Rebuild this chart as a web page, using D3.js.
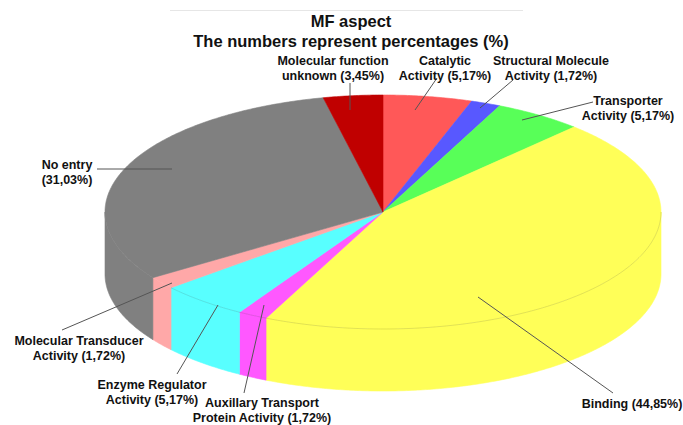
<!DOCTYPE html>
<html>
<head>
<meta charset="utf-8">
<script src="https://cdn.jsdelivr.net/npm/d3@7"></script>
<style>
  html, body { margin: 0; padding: 0; background: #fff; }
  svg { display: block; }
  text { font-family: "Liberation Sans", Arial, sans-serif; font-weight: bold; fill: #111; }
</style>
</head>
<body>
<script>
// ---- data ----
const categories = [
  "Catalytic Activity", "Structural Molecule Activity", "Transporter Activity",
  "Binding", "Auxillary Transport Protein Activity", "Enzyme Regulator Activity",
  "Molecular Transducer Activity", "No entry", "Molecular function unknown"
];
const values = [5.17, 1.72, 5.17, 44.85, 1.72, 5.17, 1.72, 31.03, 3.45];
const labelTexts = [
  ["Catalytic", "Activity (5,17%)"],
  ["Structural Molecule", "Activity (1,72%)"],
  ["Transporter", "Activity (5,17%)"],
  ["Binding (44,85%)"],
  ["Auxillary Transport", "Protein Activity (1,72%)"],
  ["Enzyme Regulator", "Activity (5,17%)"],
  ["Molecular Transducer", "Activity (1,72%)"],
  ["No entry", "(31,03%)"],
  ["Molecular function", "unknown (3,45%)"]
];
const titleLines = ["MF aspect", "The numbers represent percentages (%)"];

// ---- styles / layout ----
const colors = ["#FF5858", "#5858FF", "#58FF58", "#FFFF58", "#FF58FF", "#58FFFF", "#FFA8A8", "#808080", "#C00000"];
const W = 683, H = 425;
const cx = 383, cy = 212, rx = 278, ry = 117, depth = 62;
// label layout: [textCenterX, firstBaselineY, lineFromX, lineFromY, lineToX, lineToY]
const labelLayout = [
  [445, 65, 415, 110, 437, 78],
  [551, 65, 480, 108, 513, 80],
  [628, 105, 522, 120, 593, 102],
  [632, 408, 478, 297, 613, 393],
  [262, 407, 264, 305, 244, 393],
  [152, 389, 218, 305, 177, 374],
  [79, 345, 172, 283, 62, 330],
  [67, 169, 172, 169, 97, 169],
  [333, 65, 350, 110, 350, 83]
];

const svg = d3.select("body").append("svg").attr("width", W).attr("height", H);

// faint frame line at top
svg.append("line").attr("x1", 170).attr("x2", 523).attr("y1", 10.5).attr("y2", 10.5)
  .attr("stroke", "#e6e6e6").attr("stroke-width", 1);

const pie = d3.pie().sort(null).value(d => d).startAngle(0).endAngle(2 * Math.PI);
const arcs = pie(values);

const pt = (a, dy = 0) => [cx + rx * Math.sin(a), cy - ry * Math.cos(a) + dy];
const sample = (a0, a1, dy = 0) => {
  const n = Math.max(2, Math.ceil(Math.abs(a1 - a0) / 0.01));
  return d3.range(n + 1).map(i => pt(a0 + (a1 - a0) * i / n, dy));
};
const line = d3.line();

// side walls (front half only)
const sides = svg.append("g");
arcs.forEach((a, i) => {
  const s0 = Math.max(a.startAngle, Math.PI / 2);
  const s1 = Math.min(a.endAngle, 3 * Math.PI / 2);
  if (s1 > s0) {
    const pts = sample(s0, s1).concat(sample(s1, s0, depth));
    sides.append("path").attr("d", line(pts) + "Z")
      .attr("fill", colors[i]).attr("stroke", colors[i]).attr("stroke-width", 0.6);
  }
});

// top faces
const tops = svg.append("g");
arcs.forEach((a, i) => {
  const pts = [[cx, cy]].concat(sample(a.startAngle, a.endAngle));
  tops.append("path").attr("d", line(pts) + "Z")
    .attr("fill", colors[i]).attr("stroke", colors[i]).attr("stroke-width", 0.6);
});

// faint rim line on the front (over the yellow, magenta and cyan walls)
svg.append("path").attr("d", line(sample(Math.PI / 2, arcs[5].endAngle)))
  .attr("fill", "none").attr("stroke", "rgba(0,0,0,0.15)").attr("stroke-width", 0.8);

// leader lines
const leaders = svg.append("g");
labelLayout.forEach(l => {
  leaders.append("line").attr("x1", l[2]).attr("y1", l[3]).attr("x2", l[4]).attr("y2", l[5])
    .attr("stroke", "#555").attr("stroke-width", 1);
});

// labels
const labels = svg.append("g");
labelTexts.forEach((lines, i) => {
  const l = labelLayout[i];
  const t = labels.append("text").attr("text-anchor", "middle").attr("font-size", 12.5);
  lines.forEach((s, j) => {
    t.append("tspan").attr("x", l[0]).attr("y", l[1] + j * 15).text(s);
  });
});

// title
titleLines.forEach((s, j) => {
  svg.append("text").attr("x", 351).attr("y", 27 + j * 19.5)
    .attr("text-anchor", "middle").attr("font-size", 16.5).text(s);
});
</script>
</body>
</html>
